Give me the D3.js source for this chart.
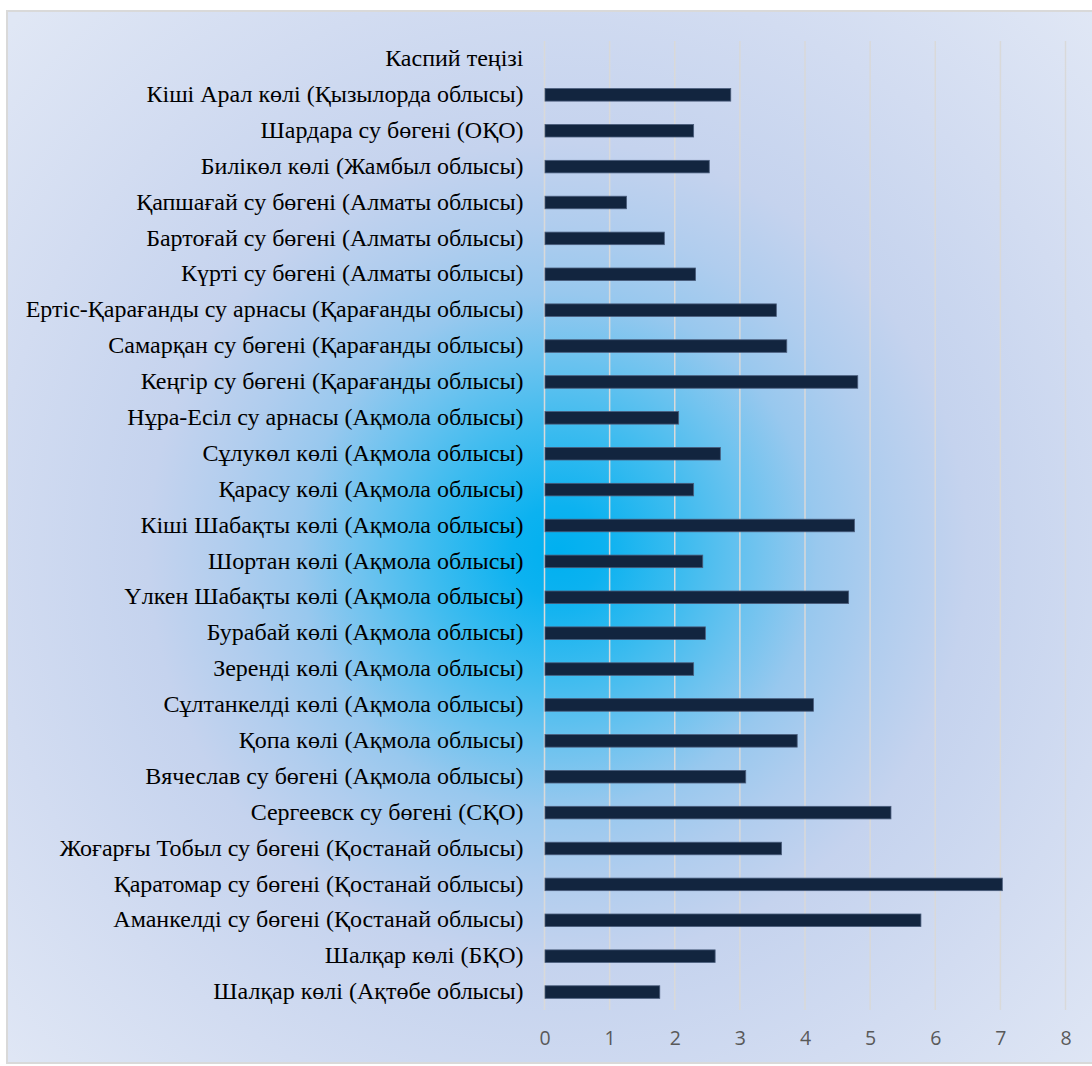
<!DOCTYPE html>
<html>
<head>
<meta charset="utf-8">
<script src="https://cdn.jsdelivr.net/npm/d3@7"></script>
<style>
  html, body { margin: 0; padding: 0; background: #ffffff; }
  svg { display: block; }
</style>
</head>
<body>
<svg id="chart" width="1092" height="1066"></svg>
<script>
// Water bodies, listed top to bottom
const categories = [
  "Каспий теңізі",
  "Кіші Арал көлі (Қызылорда облысы)",
  "Шардара су бөгені (ОҚО)",
  "Билікөл көлі (Жамбыл облысы)",
  "Қапшағай су бөгені (Алматы облысы)",
  "Бартоғай су бөгені (Алматы облысы)",
  "Күрті су бөгені (Алматы облысы)",
  "Ертіс-Қарағанды су арнасы (Қарағанды облысы)",
  "Самарқан су бөгені (Қарағанды облысы)",
  "Кеңгір су бөгені (Қарағанды облысы)",
  "Нұра-Есіл су арнасы (Ақмола облысы)",
  "Сұлукөл көлі (Ақмола облысы)",
  "Қарасу көлі (Ақмола облысы)",
  "Кіші Шабақты көлі (Ақмола облысы)",
  "Шортан көлі (Ақмола облысы)",
  "Үлкен Шабақты көлі (Ақмола облысы)",
  "Бурабай көлі (Ақмола облысы)",
  "Зеренді көлі (Ақмола облысы)",
  "Сұлтанкелді көлі  (Ақмола облысы)",
  "Қопа көлі  (Ақмола облысы)",
  "Вячеслав су бөгені (Ақмола облысы)",
  "Сергеевск су бөгені (СҚО)",
  "Жоғарғы Тобыл су бөгені (Қостанай облысы)",
  "Қаратомар су бөгені (Қостанай облысы)",
  "Аманкелді су бөгені (Қостанай облысы)",
  "Шалқар көлі (БҚО)",
  "Шалқар көлі (Ақтөбе облысы)"
];

const values = [
  0, 2.86, 2.29, 2.53, 1.26, 1.84, 2.32, 3.56, 3.72, 4.81,
  2.06, 2.70, 2.29, 4.76, 2.43, 4.67, 2.47, 2.29, 4.13, 3.88,
  3.09, 5.32, 3.64, 7.03, 5.78, 2.62, 1.77
];

const xTicks = [0, 1, 2, 3, 4, 5, 6, 7, 8];

const svg = d3.select("#chart");
const defs = svg.append("defs");

// Chart area background: bright radial glow fading to a pale blue
const rad = defs.append("radialGradient")
  .attr("id", "glow")
  .attr("gradientUnits", "userSpaceOnUse")
  .attr("cx", 558).attr("cy", 552).attr("r", 760);
[
  [0.00, "#00b0f0"],
  [0.06, "#0cb2f0"],
  [0.17, "#40bcef"],
  [0.26, "#6fc3ef"],
  [0.34, "#98c8ee"],
  [0.43, "#b0cdee"],
  [0.54, "#c5d3ee"],
  [0.75, "#d2dcf1"],
  [1.00, "#e0e7f5"]
].forEach(([o, c]) => rad.append("stop").attr("offset", o).attr("stop-color", c));

const area = { x: 7, y: 11, w: 1095, h: 1052 };
svg.append("rect")
  .attr("x", area.x).attr("y", area.y).attr("width", area.w).attr("height", area.h)
  .attr("fill", "url(#glow)")
  .attr("stroke", "#d9d9d9").attr("stroke-width", 2);

// Plot region
const plot = { left: 544.5, right: 1065.5, top: 41, bottom: 1010 };

const x = d3.scaleLinear().domain([0, 8]).range([plot.left, plot.right]);
const y = d3.scaleBand()
  .domain(categories)
  .range([plot.top, plot.bottom])
  .paddingInner(0.65)
  .paddingOuter(0.325);

// Vertical gridlines
svg.append("g")
  .selectAll("line")
  .data(xTicks)
  .join("line")
  .attr("x1", d => x(d)).attr("x2", d => x(d))
  .attr("y1", plot.top).attr("y2", plot.bottom)
  .attr("stroke", "#d9d9d9")
  .attr("stroke-width", 1.5);

// Bars
svg.append("g")
  .selectAll("rect")
  .data(categories.map((c, i) => ({ c, v: values[i] })).filter(d => d.v > 0))
  .join("rect")
  .attr("x", x(0) + 0.5)
  .attr("y", d => y(d.c))
  .attr("width", d => x(d.v) - x(0) - 0.5)
  .attr("height", y.bandwidth())
  .attr("fill", "#12253f")
  .attr("stroke", "#4a5d7c")
  .attr("stroke-width", 0.8);

// Category labels
const yAxis = d3.axisLeft(y).tickSize(0).tickPadding(21);
const gy = svg.append("g")
  .attr("transform", `translate(${plot.left},0)`)
  .call(yAxis);
gy.select(".domain").remove();
gy.selectAll("text")
  .attr("font-family", "'Liberation Serif', 'Times New Roman', serif")
  .attr("font-size", "24px")
  .attr("fill", "#000000")
  .attr("dy", "0.3em");

// Value axis labels
const xAxis = d3.axisBottom(x).tickValues(xTicks).tickSize(0).tickPadding(21);
const gx = svg.append("g")
  .attr("transform", `translate(0,${plot.bottom})`)
  .call(xAxis);
gx.select(".domain").remove();
gx.selectAll("text")
  .attr("font-family", "'Open Sans', 'Noto Sans', sans-serif")
  .attr("font-size", "19.5px")
  .attr("fill", "#595959");
</script>
</body>
</html>
